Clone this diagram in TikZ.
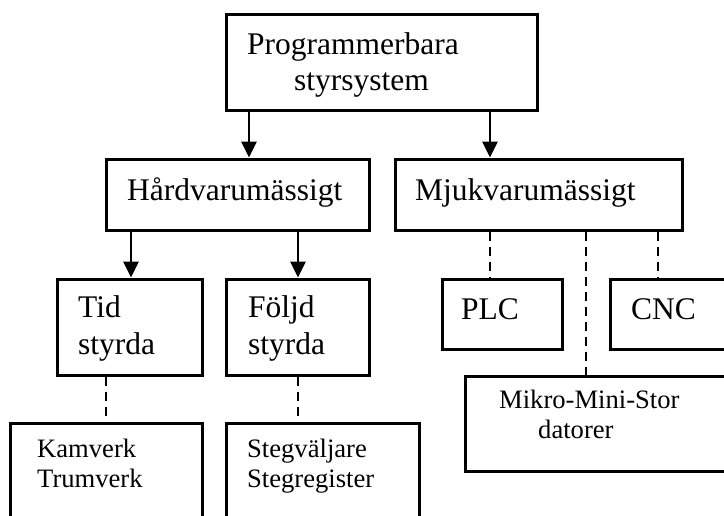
\documentclass[tikz,border=0pt]{standalone}
\usepackage{fontspec}
\setmainfont{Liberation Serif}
\usetikzlibrary{arrows.meta}

\tikzset{
  box/.style={draw, line width=3pt, inner sep=0pt, minimum width=#1},
  big/.style={anchor=base west, inner sep=0pt, font=\fontsize{31.5}{36}\selectfont},
  small/.style={anchor=base west, inner sep=0pt, font=\fontsize{26.6}{31}\selectfont},
  arr/.style={line width=2.8pt, -{Triangle[length=16pt,width=15pt]}},
  dash link/.style={line width=2.6pt, dash pattern=on 9pt off 6pt}
}

\begin{document}
\begin{tikzpicture}[x=1pt,y=-1pt]
\useasboundingbox (0,0) rectangle (724,515);
\clip (0,0) rectangle (724,515);

% boxes
\node[box=311pt, minimum height=96pt] (top)   at (381.5,62)  {};
\node[box=263pt, minimum height=71pt] (hard)  at (237.5,194.5) {};
\node[box=287pt, minimum height=71pt] (mjuk)  at (538.5,194.5) {};
\node[box=145pt, minimum height=96pt] (tid)   at (130,327)   {};
\node[box=143pt, minimum height=96pt] (foljd) at (297.5,327) {};
\node[box=192pt, minimum height=137pt] (kam)  at (106,491.5) {};
\node[box=193pt, minimum height=137pt] (steg) at (322.5,491.5) {};
\node[box=120pt, minimum height=70pt] (plc)   at (502,314)   {};
\node[box=170pt, minimum height=70pt] (cnc)   at (695,314)   {};
\node[box=315pt, minimum height=95pt] (mikro) at (622.5,423.5) {};

% labels
\node[big] (l1) at (247,54) {Programmerbara};
\node[big] (l2) at (294,90) {styrsystem};
\node[big] (l3) at (127,200) {Hårdvarumässigt};
\node[big] (l4) at (415,200) {Mjukvarumässigt};
\node[big] (l5) at (78,317) {Tid};
\node[big] (l6) at (78,354) {styrda};
\node[big] (l7) at (248,317) {Följd};
\node[big] (l8) at (248,354) {styrda};
\node[big] (l9) at (461,319) {PLC};
\node[big] (l10) at (631,319) {CNC};
\node[small] (l11) at (37,457) {Kamverk};
\node[small] (l12) at (37,487) {Trumverk};
\node[small] (l13) at (247,457) {Stegväljare};
\node[small] (l14) at (247,487) {Stegregister};
\node[small] (l15) at (499,408) {Mikro-Mini-Stor};
\node[small] (l16) at (538,438) {datorer};

% x positions of the connectors
\coordinate (xa) at (249,0);
\coordinate (xb) at (490,0);
\coordinate (xc) at (131,0);
\coordinate (xd) at (298,0);
\coordinate (xe) at (106,0);
\coordinate (xf) at (586,0);
\coordinate (xg) at (658,0);

% arrows
\draw[arr] (top.south -| xa) -- (hard.north -| xa);
\draw[arr] (top.south -| xb) -- (mjuk.north -| xb);
\draw[arr] (hard.south -| xc) -- (tid.north -| xc);
\draw[arr] (hard.south -| xd) -- (foljd.north -| xd);

% dashed links
\draw[dash link] (tid.south -| xe) -- (kam.north -| xe);
\draw[dash link] (foljd.south -| xd) -- (steg.north -| xd);
\draw[dash link] (mjuk.south -| xb) -- (plc.north -| xb);
\draw[dash link] (mjuk.south -| xf) -- (mikro.north -| xf);
\draw[dash link] (mjuk.south -| xg) -- (cnc.north -| xg);
\end{tikzpicture}
\end{document}
